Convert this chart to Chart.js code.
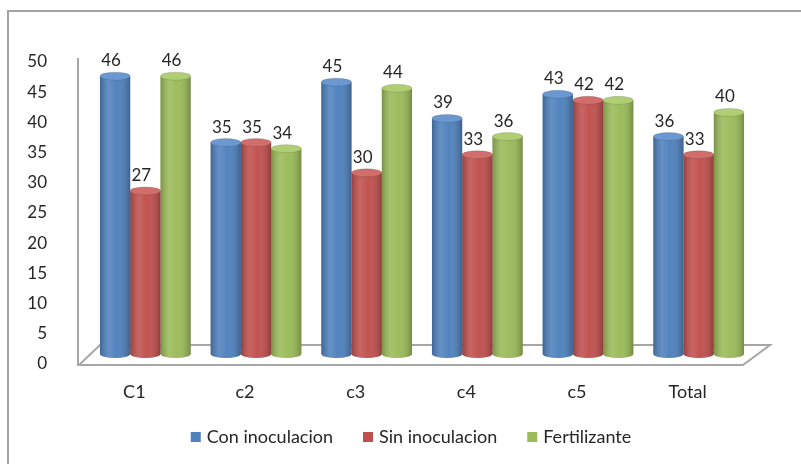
<!DOCTYPE html>
<html>
<head>
<meta charset="utf-8">
<script src="https://cdn.jsdelivr.net/npm/chart.js@4.4.0/dist/chart.umd.min.js"></script>
<style>
    body { margin: 0; background: #fff; }
    #wrap { position: relative; width: 801px; height: 464px; overflow: hidden; }
    #frame { position: absolute; left: 7px; top: 10px; width: 900px; height: 600px;
             border-left: 2px solid #a3a3a3; border-top: 2px solid #a3a3a3; }
    canvas { position: absolute; left: 0; top: 0; }
</style>
</head>
<body>
<div id="wrap">
    <div id="frame"></div>
    <canvas id="chart" width="801" height="464"></canvas>
</div>
<script>
"use strict";

// data
var categories = ["C1", "c2", "c3", "c4", "c5", "Total"];
var conInoculacion = [46, 35, 45, 39, 43, 36];
var sinInoculacion = [27, 35, 30, 33, 42, 33];
var fertilizante = [46, 34, 44, 36, 42, 40];
var seriesNames = ["Con inoculacion", "Sin inoculacion", "Fertilizante"];
var seriesColors = ["#4f81bd", "#c0504d", "#9bbb59"];
var capColors = ["#6b98d0", "#d16d6a", "#b0cf74"];
var yMin = 0, yMax = 50, yStep = 5;

var FONT = "Lato, 'Open Sans', sans-serif";
var TEXT = "#262626";
// fake 3D depth: bars sit halfway back on the floor
var DX = 11, DY = -10;

function shade(ctx, x, top, w, h) {
    var g = ctx.createLinearGradient(x - w / 2, 0, x + w / 2, 0);
    g.addColorStop(0, "rgba(0,0,0,0.22)");
    g.addColorStop(0.3, "rgba(255,255,255,0.12)");
    g.addColorStop(0.55, "rgba(255,255,255,0.02)");
    g.addColorStop(1, "rgba(0,0,0,0.25)");
    ctx.fillStyle = g;
    ctx.fillRect(x - w / 2, top, w, h);
}

var cylinderPlugin = {
    id: "cylinders",
    beforeDatasetsDraw: function(chart) {
        var ctx = chart.ctx;
        var area = chart.chartArea;

        // floor
        ctx.save();
        ctx.strokeStyle = "#a6a6a6";
        ctx.lineWidth = 2;
        ctx.fillStyle = "#ffffff";
        ctx.beginPath();
        ctx.moveTo(area.left, area.bottom + 1);
        ctx.lineTo(area.right, area.bottom + 1);
        ctx.lineTo(area.right + 27, area.bottom - 19);
        ctx.lineTo(area.left + 21, area.bottom - 19);
        ctx.closePath();
        ctx.fill();
        ctx.stroke();
        // vertical axis
        ctx.beginPath();
        ctx.moveTo(area.left - 1, area.top - 4);
        ctx.lineTo(area.left - 1, area.bottom + 1);
        ctx.stroke();
        ctx.restore();

        // move bars back into the floor, restored after datasets draw
        ctx.save();
        ctx.translate(DX, DY);
        chart.data.datasets.forEach(function(ds, i) {
            chart.getDatasetMeta(i).data.forEach(function(bar) {
                var w = bar.width;
                ctx.beginPath();
                ctx.ellipse(bar.x, bar.base, w / 2, 4, 0, 0, Math.PI * 2);
                ctx.fillStyle = seriesColors[i];
                ctx.fill();
            });
        });
    },
    afterDatasetsDraw: function(chart) {
        var ctx = chart.ctx;
        chart.data.datasets.forEach(function(ds, i) {
            chart.getDatasetMeta(i).data.forEach(function(bar) {
                var w = bar.width;
                shade(ctx, bar.x, bar.y, w, bar.base - bar.y);
                ctx.save();
                ctx.beginPath();
                ctx.ellipse(bar.x, bar.base, w / 2, 4, 0, 0, Math.PI);
                ctx.clip();
                shade(ctx, bar.x, bar.base - 1, w, 6);
                ctx.restore();
                // top cap
                ctx.beginPath();
                ctx.ellipse(bar.x, bar.y, w / 2, 4, 0, 0, Math.PI * 2);
                ctx.fillStyle = capColors[i];
                ctx.fill();
                ctx.strokeStyle = "rgba(0,0,0,0.12)";
                ctx.lineWidth = 1;
                ctx.stroke();
            });
        });
        ctx.restore();

        // value labels
        ctx.save();
        ctx.font = "17px " + FONT;
        ctx.fillStyle = TEXT;
        ctx.textAlign = "center";
        ctx.textBaseline = "bottom";
        chart.data.datasets.forEach(function(ds, i) {
            chart.getDatasetMeta(i).data.forEach(function(bar, j) {
                ctx.fillText(String(ds.data[j]), bar.x + DX - 4, bar.y + DY - 7);
            });
        });
        ctx.restore();
    },
    afterDraw: function(chart) {
        // legend, centred under the plot
        var ctx = chart.ctx;
        var area = chart.chartArea;
        var box = 10, gap = 6, spacing = 30, y = 437;
        ctx.save();
        ctx.font = "18px " + FONT;
        var widths = seriesNames.map(function(n) { return ctx.measureText(n).width; });
        var total = 0;
        widths.forEach(function(w) { total += box + gap + w; });
        total += spacing * (seriesNames.length - 1);
        var x = (area.left + area.right) / 2 - total / 2;
        ctx.textBaseline = "middle";
        ctx.textAlign = "left";
        seriesNames.forEach(function(n, i) {
            ctx.fillStyle = seriesColors[i];
            ctx.fillRect(x, y - box / 2, box, box);
            ctx.fillStyle = TEXT;
            ctx.fillText(n, x + box + gap, y);
            x += box + gap + widths[i] + spacing;
        });
        ctx.restore();
    }
};

var seriesData = [conInoculacion, sinInoculacion, fertilizante];

new Chart(document.getElementById("chart"), {
    type: "bar",
    data: {
        labels: categories,
        datasets: seriesData.map(function(d, i) {
            return {
                label: seriesNames[i],
                data: d,
                backgroundColor: seriesColors[i],
                borderWidth: 0,
                categoryPercentage: 0.82,
                barPercentage: 1.0,
                clip: false
            };
        })
    },
    options: {
        responsive: false,
        animation: false,
        layout: { padding: { top: 62, right: 58, bottom: 0, left: 0 } },
        plugins: {
            legend: { display: false },
            tooltip: { enabled: false }
        },
        scales: {
            x: {
                grid: { display: false },
                border: { display: false },
                ticks: { color: TEXT, font: { family: FONT, size: 18 }, padding: 9 },
                afterFit: function(scale) { scale.height = 100; }
            },
            y: {
                min: yMin,
                max: yMax,
                grid: { display: false },
                border: { display: false },
                ticks: { stepSize: yStep, color: TEXT, font: { family: FONT, size: 17 }, padding: 24 },
                afterFit: function(scale) { scale.width = 79; }
            }
        }
    },
    plugins: [cylinderPlugin]
});
</script>
</body>
</html>
